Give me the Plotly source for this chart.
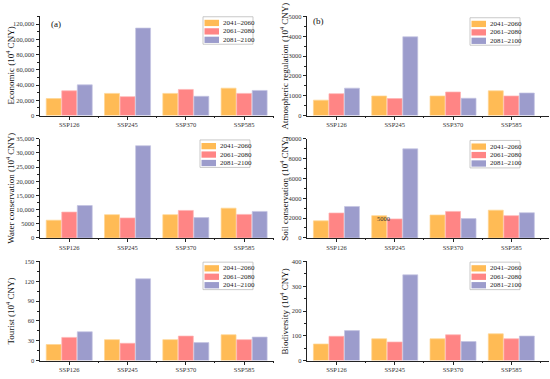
import plotly.graph_objects as go

# ---------------- data ----------------
scenarios = ["SSP126", "SSP245", "SSP370", "SSP585"]
periods = ["2041–2060", "2061–2080", "2081–2100"]
periods_tourist = ["2041–2060", "2061–2080", "2041–2100"]  # as printed in the original

economic_2041 = [22300, 29100, 29100, 36000]
economic_2061 = [32500, 24800, 34300, 29100]
economic_2081 = [40300, 114800, 25300, 33000]

atmos_2041 = [780, 990, 990, 1250]
atmos_2061 = [1105, 860, 1190, 990]
atmos_2081 = [1385, 3975, 875, 1140]

water_2041 = [6250, 8200, 8200, 10500]
water_2061 = [9120, 7050, 9700, 8300]
water_2081 = [11430, 32550, 7170, 9350]

soil_2041 = [1720, 2245, 2310, 2800]
soil_2061 = [2510, 1915, 2670, 2245]
soil_2081 = [3170, 8980, 1950, 2540]

tourist_2041 = [24.3, 31.7, 31.7, 39.1]
tourist_2061 = [35.1, 26.2, 37.1, 31.7]
tourist_2081 = [43.6, 123.8, 27.2, 35.6]

biodiv_2041 = [67, 88, 88, 108]
biodiv_2061 = [98, 75, 104, 88]
biodiv_2081 = [121, 346, 77, 99]

econ_ticks = [0, 20000, 40000, 60000, 80000, 100000, 120000]
econ_ticktext = ["0", "20,000", "40,000", "60,000", "80,000", "100,000", "120,000"]
atmos_ticks = [0, 1000, 2000, 3000, 4000, 5000]
atmos_ticktext = ["0", "1000", "2000", "3000", "4000", "5000"]
water_ticks = [0, 5000, 10000, 15000, 20000, 25000, 30000, 35000]
water_ticktext = ["0", "5000", "10,000", "15,000", "20,000", "25,000", "30,000", "35,000"]
soil_ticks = [0, 2000, 4000, 6000, 8000, 10000]
soil_ticktext = ["0", "2000", "4000", "6000", "8000", "10000"]
tourist_ticks = [0, 30, 60, 90, 120, 150]
tourist_ticktext = ["0", "30", "60", "90", "120", "150"]
biodiv_ticks = [0, 100, 200, 300, 400]
biodiv_ticktext = ["0", "100", "200", "300", "400"]

# ---------------- style ----------------
W, H = 550, 379
colors = ["#FFBB55", "#FF8585", "#9C9CCC"]
edge_colors = ["#FFD592", "#FFB3B3", "#C4C4E2"]
FONT = "Liberation Serif, Times New Roman, serif"


def fx(x):
    return x / W


def fy(y):
    return 1 - y / H


panels = [
    dict(vals=[economic_2041, economic_2061, economic_2081], names=periods,
         left=39.5, right=274, top=12.7, bottom=113.7, yrange=[0, 130000],
         ticks=econ_ticks, ticktext=econ_ticktext, minor=10000,
         title="Economic (10<sup>4</sup> CNY)", tx=10.5, label="(a)", lx=55.5, ly=20,
         leg=(203, 13)),
    dict(vals=[atmos_2041, atmos_2061, atmos_2081], names=periods,
         left=306.7, right=549, top=12.7, bottom=113.7, yrange=[0, 5000],
         ticks=atmos_ticks, ticktext=atmos_ticktext, minor=500,
         title="Atmospheric regulation (10<sup>4</sup> CNY)", tx=284.5, label="(b)", lx=318.5, ly=17.5,
         leg=(470, 14)),
    dict(vals=[water_2041, water_2061, water_2081], names=periods,
         left=39.5, right=274, top=137.3, bottom=238.3, yrange=[0, 35000],
         ticks=water_ticks, ticktext=water_ticktext, minor=2500,
         title="Water conservation (10<sup>4</sup> CNY)", tx=10.5, label=None,
         leg=(200, 138.5)),
    dict(vals=[soil_2041, soil_2061, soil_2081], names=periods,
         left=306.7, right=549, top=137.3, bottom=238.3, yrange=[0, 10000],
         ticks=soil_ticks, ticktext=soil_ticktext, minor=1000,
         title="Soil conservation (10<sup>4</sup> CNY)", tx=284.5, label=None,
         leg=(470, 139)),
    dict(vals=[tourist_2041, tourist_2061, tourist_2081], names=periods_tourist,
         left=39.5, right=274, top=262.3, bottom=363.3, yrange=[0, 150],
         ticks=tourist_ticks, ticktext=tourist_ticktext, minor=15,
         title="Tourist (10<sup>4</sup> CNY)", tx=10.5, label=None,
         leg=(203, 263)),
    dict(vals=[biodiv_2041, biodiv_2061, biodiv_2081], names=periods,
         left=306.7, right=549, top=262.3, bottom=363.3, yrange=[0, 400],
         ticks=biodiv_ticks, ticktext=biodiv_ticktext, minor=50,
         title="Biodiversity (10<sup>4</sup> CNY)", tx=284.5, label=None,
         leg=(470, 263)),
]

CAT_W = 58.3  # pixels per scenario category

fig = go.Figure()
shapes = []
annotations = []
xpos = list(range(len(scenarios)))

for i, p in enumerate(panels):
    n = "" if i == 0 else str(i + 1)
    xa, ya = "x" + n, "y" + n
    for k in range(3):
        fig.add_trace(go.Bar(
            x=xpos, y=p["vals"][k], name=p["names"][k],
            marker=dict(color=colors[k], line=dict(color=edge_colors[k], width=0.7)),
            xaxis=xa, yaxis=ya, showlegend=False, offsetgroup=str(k),
        ))
    width_px = p["right"] - p["left"]
    x0 = -0.51
    x1 = x0 + width_px / CAT_W
    fig.layout["xaxis" + n] = dict(
        domain=[fx(p["left"]), fx(p["right"])], anchor=ya, range=[x0, x1],
        tickmode="array", tickvals=xpos, ticktext=scenarios,
        ticks="outside", ticklen=3, tickwidth=1, tickcolor="#222",
        minor=dict(tickmode="array", tickvals=[0.5, 1.5, 2.5, 3.5], ticks="outside",
                   ticklen=1.5, tickcolor="#222"),
        showline=True, linecolor="#222", linewidth=1, showgrid=False, zeroline=False,
        tickfont=dict(family=FONT, size=6.5, color="#333"), fixedrange=True,
    )
    fig.layout["yaxis" + n] = dict(
        domain=[fy(p["bottom"]), fy(p["top"])], anchor=xa, range=p["yrange"],
        tickmode="array", tickvals=p["ticks"], ticktext=p["ticktext"],
        ticks="outside", ticklen=3, tickwidth=1, tickcolor="#222",
        minor=dict(dtick=p["minor"], ticks="outside", ticklen=1.5, tickcolor="#222"),
        showline=True, linecolor="#222", linewidth=1, showgrid=False, zeroline=False,
        tickfont=dict(family=FONT, size=6.5, color="#333"), fixedrange=True,
    )
    annotations.append(dict(
        text=p["title"], xref="paper", yref="paper",
        x=fx(p["tx"]), y=fy((p["top"] + p["bottom"]) / 2), textangle=-90,
        xanchor="center", yanchor="middle", showarrow=False,
        font=dict(family=FONT, size=9, color="#111"),
    ))
    if p["label"]:
        annotations.append(dict(
            text=p["label"], xref="paper", yref="paper", x=fx(p["lx"]), y=fy(p["ly"]),
            xanchor="center", yanchor="middle", showarrow=False,
            font=dict(family=FONT, size=9, color="#111"),
        ))
    # legend box
    lx0, ly0 = p["leg"]
    bw, bh = 50, 28
    shapes.append(dict(type="rect", xref="paper", yref="paper",
                       x0=fx(lx0), x1=fx(lx0 + bw), y0=fy(ly0), y1=fy(ly0 + bh),
                       line=dict(color="#BBBBBB", width=0.8), fillcolor="white", layer="above"))
    for k in range(3):
        cy = ly0 + 6.3 + k * 8.6
        shapes.append(dict(type="rect", xref="paper", yref="paper",
                           x0=fx(lx0 + 1.5), x1=fx(lx0 + 16), y0=fy(cy - 3.2), y1=fy(cy + 3.2),
                           line=dict(width=0), fillcolor=colors[k], layer="above"))
        annotations.append(dict(
            text=p["names"][k], xref="paper", yref="paper", x=fx(lx0 + 18), y=fy(cy),
            xanchor="left", yanchor="middle", showarrow=False,
            font=dict(family=FONT, size=7, color="#222"),
        ))

# stray label printed over the SSP245 bar in panel (d) of the original
annotations.append(dict(
    text="5000", xref="paper", yref="paper", x=fx(383), y=fy(218.5),
    xanchor="center", yanchor="middle", showarrow=False,
    font=dict(family=FONT, size=6.5, color="#333"),
))

fig.update_layout(
    width=W, height=H, margin=dict(l=0, r=0, t=0, b=0),
    paper_bgcolor="white", plot_bgcolor="white",
    barmode="group", bargap=0.2, bargroupgap=0.04,
    shapes=shapes, annotations=annotations, showlegend=False,
)

fig.write_html("out.html", config={"displayModeBar": False},
               post_script="document.body.style.margin='0';document.body.style.overflow='hidden';")
